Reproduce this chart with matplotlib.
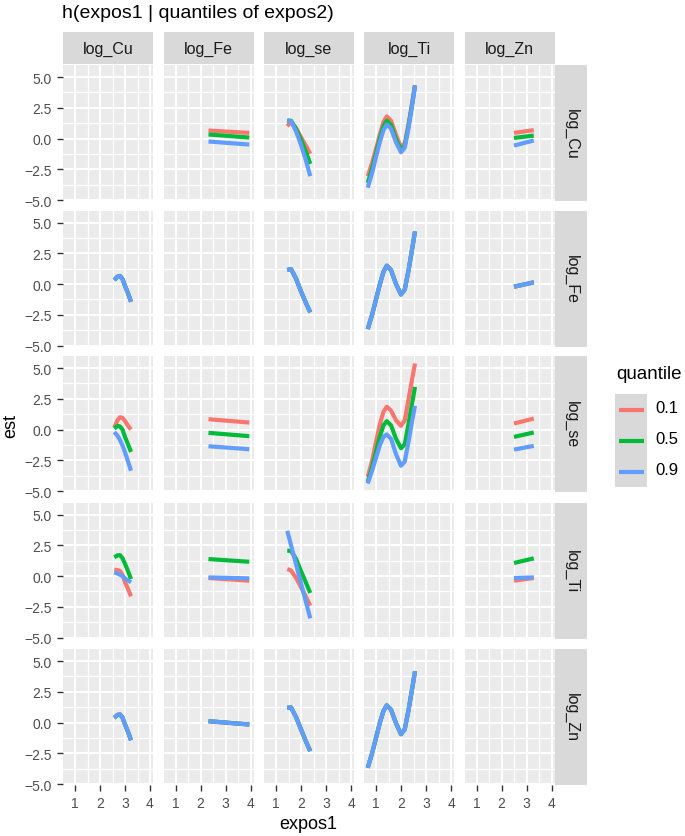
import matplotlib.pyplot as plt

plt.rcParams['font.family'] = ['Liberation Sans', 'DejaVu Sans']

variables = ['log_Cu', 'log_Fe', 'log_se', 'log_Ti', 'log_Zn']
quantiles = ['0.1', '0.5', '0.9']
colors = ['#F8766D', '#00BA38', '#619CFF']

# expos1 values along each column (x of the curves)
x_Cu = [2.57, 2.7, 2.8, 2.9, 3.0, 3.12, 3.24]
x_Fe = [2.32, 3.95]
x_se = [1.45, 1.6, 1.8, 2.0, 2.2, 2.37]
x_Ti = [0.67, 0.85, 1.0, 1.15, 1.3, 1.43, 1.6, 1.8, 2.0, 2.15, 2.3, 2.45, 2.56]
x_Zn = [2.5, 3.29]

# est, one dict per expos2 row; each entry = [q0.1, q0.5, q0.9]
given_Cu = {
    'log_Fe': [[0.65, 0.46], [0.33, 0.08], [-0.24, -0.49]],
    'log_se': [[1.0, 1.35, 0.85, 0.1, -0.6, -1.24],
               [1.45, 1.45, 0.8, -0.1, -1.1, -2.06],
               [1.5, 1.4, 0.6, -0.5, -1.8, -3.06]],
    'log_Ti': [[-3.06, -1.95, -0.85, 0.3, 1.35, 1.8, 1.45, 0.3, -0.72, -0.4, 1.15, 2.95, 4.35],
               [-3.6, -2.4, -1.2, 0.0, 1.0, 1.45, 1.1, -0.05, -0.95, -0.6, 1.0, 2.85, 4.3],
               [-4.0, -2.75, -1.5, -0.3, 0.7, 1.14, 0.8, -0.3, -1.12, -0.75, 0.85, 2.75, 4.3]],
    'log_Zn': [[0.46, 0.68], [0.05, 0.24], [-0.57, -0.16]],
}
given_Fe = {
    'log_Cu': [[0.33, 0.6, 0.66, 0.4, -0.15, -0.75, -1.44]] * 3,
    'log_se': [[1.14, 1.22, 0.45, -0.6, -1.55, -2.3]] * 3,
    'log_Ti': [[-3.66, -2.45, -1.25, -0.05, 1.0, 1.49, 1.15, 0.0, -0.85, -0.45, 1.1, 2.9, 4.28]] * 3,
    'log_Zn': [[-0.22, 0.14]] * 3,
}
given_se = {
    'log_Cu': [[0.16, 0.76, 1.0, 0.95, 0.7, 0.3, 0.0],
               [0.08, 0.3, 0.25, 0.0, -0.6, -1.2, -1.82],
               [-0.2, -0.5, -0.85, -1.3, -1.85, -2.6, -3.35]],
    'log_Fe': [[0.84, 0.57], [-0.27, -0.54], [-1.36, -1.6]],
    'log_Ti': [[-3.85, -2.5, -1.0, 0.4, 1.45, 1.85, 1.55, 0.75, 0.3, 0.75, 2.45, 4.15, 5.37],
               [-4.25, -3.0, -1.8, -0.6, 0.35, 0.68, 0.35, -0.75, -1.52, -1.2, 0.45, 2.2, 3.47],
               [-4.39, -3.3, -2.3, -1.3, -0.6, -0.4, -0.75, -2.0, -2.95, -2.6, -1.0, 0.75, 1.93]],
    'log_Zn': [[0.49, 0.89], [-0.6, -0.24], [-1.63, -1.33]],
}
given_Ti = {
    'log_Cu': [[0.51, 0.48, 0.42, 0.1, -0.5, -1.05, -1.65],
               [1.52, 1.68, 1.7, 1.45, 1.0, 0.4, -0.25],
               [0.3, 0.2, 0.1, 0.0, -0.2, -0.35, -0.51]],
    'log_Fe': [[-0.16, -0.38], [1.38, 1.16], [-0.11, -0.19]],
    'log_se': [[0.57, 0.45, -0.15, -0.9, -1.7, -2.41],
               [2.06, 2.05, 1.4, 0.4, -0.55, -1.38],
               [3.68, 2.52, 0.97, -0.58, -2.12, -3.44]],
    'log_Zn': [[-0.38, -0.16], [1.06, 1.44], [-0.16, -0.11]],
}
given_Zn = {
    'log_Cu': [[0.38, 0.62, 0.66, 0.4, -0.15, -0.75, -1.44]] * 3,
    'log_Fe': [[0.11, -0.16]] * 3,
    'log_se': [[1.2, 1.23, 0.45, -0.55, -1.55, -2.33]] * 3,
    'log_Ti': [[-3.68, -2.45, -1.25, -0.05, 0.95, 1.4, 1.05, -0.05, -0.95, -0.55, 1.0, 2.8, 4.17]] * 3,
}

x_ticks = [1, 2, 3, 4]
y_ticks = [-5.0, -2.5, 0.0, 2.5, 5.0]
y_ticklabels = ['\u22125.0', '\u22122.5', '0.0', '2.5', '5.0']

expos1_grid = {'log_Cu': x_Cu, 'log_Fe': x_Fe, 'log_se': x_se, 'log_Ti': x_Ti, 'log_Zn': x_Zn}
est_by_row = {'log_Cu': given_Cu, 'log_Fe': given_Fe, 'log_se': given_se,
              'log_Ti': given_Ti, 'log_Zn': given_Zn}

W, H = 685, 837
fig = plt.figure(figsize=(W / 100, H / 100), dpi=100)


def px_axes(left, top, width, height):
    return fig.add_axes([left / W, 1 - (top + height) / H, width / W, height / H])


col_left = [63, 163.5, 264, 364, 464.5]
row_top = [66, 211.5, 357, 503.5, 650]
pw, ph = 90, 136

for r, row_var in enumerate(variables):
    for c, col_var in enumerate(variables):
        ax = px_axes(col_left[c], row_top[r], pw, ph)
        ax.set_facecolor('#EBEBEB')
        for s in ax.spines.values():
            s.set_visible(False)
        ax.set_xlim(0.52, 4.12)
        ax.set_ylim(-5.08, 5.98)
        ax.set_xticks(x_ticks)
        ax.set_xticks([1.5, 2.5, 3.5], minor=True)
        ax.set_yticks(y_ticks)
        ax.set_yticks([-3.75, -1.25, 1.25, 3.75], minor=True)
        ax.grid(which='major', color='white', lw=1.4)
        ax.grid(which='minor', color='white', lw=0.9)
        ax.set_axisbelow(True)
        ax.tick_params(which='minor', length=0)
        ax.tick_params(which='major', length=4, width=1, color='#333333',
                       labelcolor='#4D4D4D', labelsize=10, pad=4)
        if c == 0:
            ax.set_yticklabels(y_ticklabels)
        else:
            ax.tick_params(axis='y', length=0, labelleft=False)
        if r == len(variables) - 1:
            ax.set_xticklabels([str(t) for t in x_ticks])
        else:
            ax.tick_params(axis='x', length=0, labelbottom=False)

        curves = est_by_row[row_var].get(col_var)
        if curves is not None:
            for vals, color in zip(curves, colors):
                ax.plot(expos1_grid[col_var], vals, color=color, lw=3.0,
                        solid_capstyle='butt', solid_joinstyle='round')

# strips
for c, col_var in enumerate(variables):
    sax = px_axes(col_left[c], 33, pw, 32)
    sax.set_facecolor('#D9D9D9')
    sax.set_xticks([])
    sax.set_yticks([])
    for s in sax.spines.values():
        s.set_visible(False)
    sax.text(0.5, 0.5, col_var, ha='center', va='center', fontsize=11.5,
             color='#1A1A1A', transform=sax.transAxes)

for r, row_var in enumerate(variables):
    sax = px_axes(555, row_top[r], 32, ph)
    sax.set_facecolor('#D9D9D9')
    sax.set_xticks([])
    sax.set_yticks([])
    for s in sax.spines.values():
        s.set_visible(False)
    sax.text(0.5, 0.5, row_var, ha='center', va='center', fontsize=11.5,
             color='#1A1A1A', rotation=-90, transform=sax.transAxes)

# titles
fig.text(62 / W, 1 - 18.5 / H, 'h(expos1 | quantiles of expos2)', ha='left',
         va='baseline', fontsize=14, color='black')
fig.text(308 / W, 1 - 829 / H, 'expos1', ha='center', va='baseline', fontsize=13)
fig.text(11 / W, 1 - 426 / H, 'est', ha='center', va='center', rotation=90, fontsize=13)

# legend
fig.text(616 / W, 1 - 379 / H, 'quantile', ha='left', va='baseline', fontsize=13.5)
kax = px_axes(615, 395, 32, 93)
kax.set_facecolor('#D9D9D9')
kax.set_xlim(0, 1)
kax.set_ylim(0, len(quantiles))
kax.set_xticks([])
kax.set_yticks([])
for s in kax.spines.values():
    s.set_visible(False)
for i, (q, color) in enumerate(zip(quantiles, colors)):
    yk = len(quantiles) - 0.5 - i
    kax.plot([0.12, 0.9], [yk, yk], color=color, lw=3.0, solid_capstyle='butt')
    fig.text(655 / W, 1 - (409 + 31 * i) / H, q, ha='left', va='center', fontsize=12)

fig.savefig('out.png', dpi=100)
